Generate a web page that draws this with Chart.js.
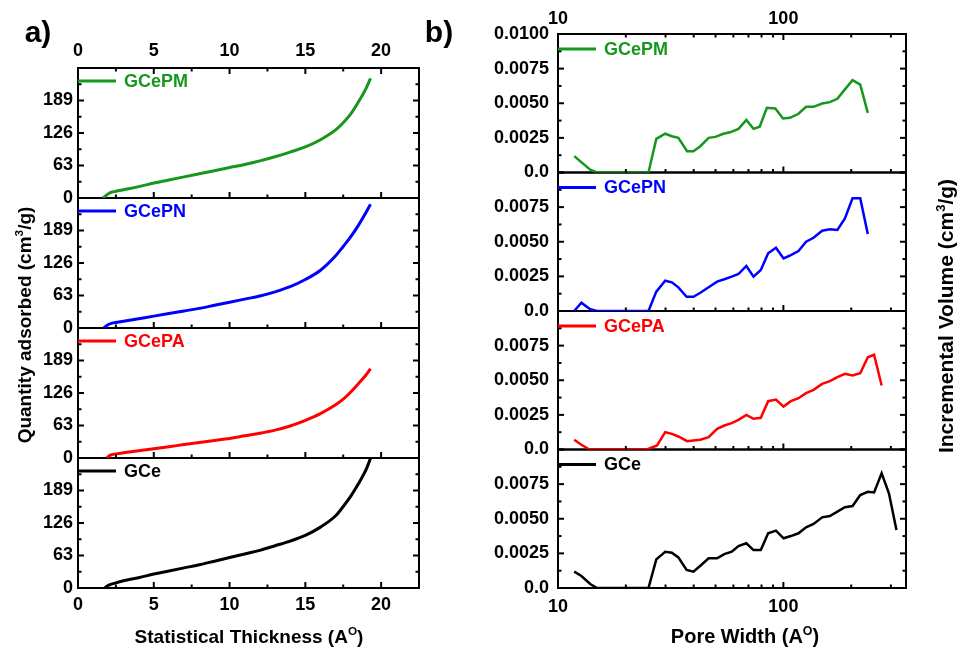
<!DOCTYPE html>
<html>
<head>
<meta charset="utf-8">
<script src="https://cdn.jsdelivr.net/npm/chart.js@4.4.1/dist/chart.umd.min.js"></script>
<style>
  html, body { margin: 0; padding: 0; background: #fff; }
  #wrap { position: relative; width: 966px; height: 655px; }
  canvas { position: absolute; left: 0; top: 0; }
</style>
</head>
<body>
<div id="wrap">
  <canvas id="chartA" width="966" height="655"></canvas>
  <canvas id="chartB" width="966" height="655"></canvas>
</div>
<script>
const FONT = '"Liberation Sans", Arial, sans-serif';
Chart.defaults.font.family = FONT;
Chart.defaults.font.size = 18;
Chart.defaults.font.weight = 'bold';
Chart.defaults.color = '#000';

// ---- a) statistical thickness vs quantity adsorbed
const thickPM = [1.65, 1.85, 2.1, 2.5, 3, 4, 5, 6, 7, 8, 9, 10, 11, 12, 13, 14, 15, 16, 17, 17.5, 18, 18.5, 19, 19.3];
const qtyPM   = [0, 5, 10, 13, 16, 22, 29, 35, 41, 47, 53, 59, 65, 72, 80, 89, 99, 113, 132, 146, 163, 186, 212, 232];
const thickPN = [1.7, 1.9, 2.2, 2.6, 3, 4, 5, 6, 7, 8, 9, 10, 11, 12, 13, 14, 15, 16, 17, 17.5, 18, 18.5, 19, 19.3];
const qtyPN   = [0, 5, 9, 11, 13, 18, 23, 28, 33, 38, 44, 50, 56, 62, 70, 80, 94, 112, 140, 158, 177, 199, 224, 240];
const thickPA = [1.9, 2.1, 2.5, 3, 4, 5, 6, 7, 8, 9, 10, 11, 12, 13, 14, 15, 16, 17, 17.5, 18, 18.5, 19, 19.3];
const qtyPA   = [0, 5, 8, 10, 14, 18, 22, 26, 30, 34, 38, 43, 48, 54, 62, 73, 86, 103, 114, 128, 144, 161, 173];
const thickCe = [1.75, 2, 2.5, 3, 4, 5, 6, 7, 8, 9, 10, 11, 12, 13, 14, 15, 16, 17, 17.5, 18, 18.5, 19, 19.3];
const qtyCe   = [0, 5, 10, 14, 20, 27, 33, 39, 45, 52, 59, 66, 73, 82, 91, 102, 118, 140, 158, 178, 202, 229, 251];

// ---- b) pore width vs incremental volume
const widthPM = [11.8, 13.9, 14.9, 25.2, 27.3, 29.9, 32.0, 34.2, 37.4, 39.9, 42.8, 46.6, 49.9, 54.2, 58.0, 63.2, 68.5, 73.7, 78.5, 84.5, 92.1, 99.6, 107, 116.7, 126.1, 136.1, 148.6, 160.8, 173.6, 187.5, 202.7, 219.3, 236.9];
const volPM   = [0.00118, 0.0002, 0, 0, 0.00243, 0.0028, 0.00262, 0.0025, 0.00154, 0.00154, 0.0019, 0.0025, 0.00257, 0.0028, 0.0029, 0.00315, 0.0038, 0.00315, 0.0033, 0.00467, 0.00462, 0.0039, 0.00395, 0.00424, 0.00474, 0.00474, 0.00498, 0.00508, 0.00532, 0.006, 0.00667, 0.00635, 0.00431];
const widthPN = [11.8, 12.7, 13.9, 14.9, 25.2, 27.3, 29.9, 32.0, 34.2, 37.2, 39.9, 42.8, 46.6, 50.8, 54.7, 59.0, 63.2, 68.5, 73.7, 79.4, 85.6, 92.7, 100.2, 107.9, 116.7, 126.1, 136.1, 148.6, 160.8, 173.6, 187.5, 202.7, 219.3, 236.9];
const volPN   = [0, 0.0006, 0.00012, 0, 0, 0.0014, 0.00219, 0.00207, 0.00171, 0.00103, 0.00103, 0.00132, 0.00171, 0.00212, 0.00229, 0.00248, 0.00267, 0.00325, 0.00248, 0.00296, 0.00417, 0.00457, 0.0038, 0.00404, 0.00433, 0.005, 0.00529, 0.0058, 0.0059, 0.00585, 0.00669, 0.00814, 0.00814, 0.00556];
const widthPA = [11.8, 12.7, 13.8, 24.8, 27.5, 29.9, 32.0, 34.2, 37.4, 39.9, 42.8, 46.6, 50.8, 54.7, 59.0, 63.2, 68.5, 73.7, 79.4, 85.6, 92.7, 100.2, 107.9, 116.7, 126.1, 136.1, 148.6, 160.8, 173.6, 187.5, 202.7, 219.3, 236.9, 252.6, 272.9];
const volPA   = [0.0007, 0.00034, 0, 0, 0.00029, 0.00125, 0.00113, 0.00094, 0.0006, 0.00065, 0.0007, 0.00089, 0.00149, 0.00173, 0.0019, 0.00214, 0.0025, 0.00222, 0.00229, 0.00349, 0.00361, 0.0031, 0.00349, 0.0037, 0.00407, 0.00431, 0.00474, 0.00493, 0.00522, 0.00547, 0.00534, 0.00551, 0.00666, 0.00684, 0.00462];
const widthCe = [11.8, 12.7, 13.9, 14.9, 25.2, 27.3, 29.9, 32.0, 34.2, 37.2, 39.9, 43.2, 46.6, 50.8, 54.7, 59.0, 63.2, 68.5, 73.7, 79.4, 85.6, 92.7, 100.2, 107.9, 116.7, 126.1, 136.1, 148.6, 160.8, 173.6, 187.5, 202.7, 219.3, 236.9, 252.6, 272.9, 294.0, 317.5];
const volCe   = [0.00118, 0.00087, 0.00029, 0, 0, 0.00207, 0.00262, 0.00255, 0.00221, 0.0013, 0.00118, 0.00166, 0.00214, 0.00214, 0.00245, 0.00262, 0.00303, 0.00323, 0.00274, 0.00274, 0.00395, 0.00414, 0.00359, 0.00375, 0.00395, 0.00438, 0.00462, 0.0051, 0.0052, 0.00551, 0.00583, 0.00592, 0.00671, 0.00695, 0.0069, 0.00828, 0.00684, 0.00419];

const sampleNames = ['GCePM', 'GCePN', 'GCePA', 'GCe'];
const sampleColors = ['#16961b', '#0000ff', '#ff0000', '#000000'];
const yIds = ['y1', 'y2', 'y3', 'y4'];

const pts = (xs, ys) => xs.map((x, i) => ({x: x, y: ys[i]}));

function line(ctx, x1, y1, x2, y2) {
  ctx.beginPath(); ctx.moveTo(x1, y1); ctx.lineTo(x2, y2); ctx.stroke();
}

// major + minor tick positions, in data values
function marks(scale, minorStep) {
  const out = [];
  if (scale.type === 'logarithmic') {
    scale.ticks.forEach(t => {
      const v = t.value;
      if (v <= scale.min || v >= scale.max) return;
      const e = Math.pow(10, Math.floor(Math.log10(v) + 1e-9));
      const m = v / e;
      if (Math.abs(m - Math.round(m)) > 1e-6) return;
      out.push({v: v, major: Math.round(m) === 1});
    });
  } else {
    scale.ticks.forEach(t => out.push({v: t.value, major: true}));
    for (let v = minorStep; v < scale.max - 1e-9; v += 2 * minorStep) out.push({v: v, major: false});
  }
  return out;
}

function richText(ctx, parts, x, y, size, rot) {
  const fnt = sup => 'bold ' + (sup ? size * 0.62 : size) + 'px ' + FONT;
  ctx.save();
  ctx.translate(x, y);
  ctx.rotate(rot || 0);
  ctx.fillStyle = '#000';
  ctx.textBaseline = 'alphabetic';
  ctx.textAlign = 'left';
  const widths = parts.map(p => { ctx.font = fnt(p.sup); return ctx.measureText(p.t).width; });
  let cx = -widths.reduce((a, b) => a + b, 0) / 2;
  parts.forEach((p, i) => {
    ctx.font = fnt(p.sup);
    ctx.fillText(p.t, cx, size * 0.35 - (p.sup ? size * 0.42 : 0));
    cx += widths[i];
  });
  ctx.restore();
}

function makeFrames(xMinor, yMinor, legendDy) {
  return {
    id: 'frames',
    beforeDatasetsDraw(chart) {
      const {ctx, chartArea: a} = chart;
      ctx.save();
      ctx.lineWidth = 2;
      ctx.strokeStyle = '#000';
      yIds.forEach(id => {
        const s = chart.scales[id];
        ctx.strokeRect(a.left, s.top, a.right - a.left, s.bottom - s.top);
      });
      ctx.restore();
    },
    afterDatasetsDraw(chart) {
      const {ctx, chartArea: a} = chart;
      const xs = chart.scales.x;
      const xm = marks(xs, xMinor);
      ctx.save();
      yIds.forEach((id, k) => {
        const s = chart.scales[id];
        ctx.strokeStyle = '#000';
        ctx.lineWidth = 2;
        marks(s, yMinor).forEach(m => {
          const y = s.getPixelForValue(m.v), len = m.major ? 6 : 3.5;
          line(ctx, a.left, y, a.left + len, y);
          line(ctx, a.right, y, a.right - len, y);
        });
        xm.forEach(m => {
          const x = xs.getPixelForValue(m.v), len = m.major ? 6 : 3.5;
          line(ctx, x, s.bottom, x, s.bottom - len);
          if (k === 0) line(ctx, x, s.top, x, s.top + len);
        });
        const ds = chart.data.datasets[k];
        const ly = s.top + legendDy;
        ctx.strokeStyle = ds.borderColor;
        ctx.lineWidth = 3;
        line(ctx, a.left, ly, a.left + 38, ly);
        ctx.fillStyle = ds.borderColor;
        ctx.font = 'bold 18px ' + FONT;
        ctx.textBaseline = 'middle';
        ctx.textAlign = 'left';
        ctx.fillText(ds.label, a.left + 46, ly + 1);
      });
      ctx.restore();
    }
  };
}

function makeTexts(items) {
  return {
    id: 'texts',
    afterDraw(chart) {
      items.forEach(it => richText(chart.ctx, it.parts, it.x, it.y, it.size, it.rot));
    }
  };
}

function yAxis(weight, max, step, width, pad, cb) {
  return {
    type: 'linear', position: 'left', stack: 'sub', stackWeight: 1, weight: weight,
    min: 0, max: max,
    grid: {display: false, drawTicks: false}, border: {display: false},
    ticks: {stepSize: step, includeBounds: false, autoSkip: false, padding: pad, callback: cb},
    afterFit(s) { s.width = width; }
  };
}

function xAxis(type, pos, min, max, height, pad, extraTicks) {
  return {
    type: type, position: pos, min: min, max: max,
    grid: {display: false, drawTicks: false}, border: {display: false},
    ticks: Object.assign({autoSkip: false, padding: pad, maxRotation: 0}, extraTicks),
    afterFit(s) { s.height = height; }
  };
}

// ---------------- panel a
const dataA = [pts(thickPM, qtyPM), pts(thickPN, qtyPN), pts(thickPA, qtyPA), pts(thickCe, qtyCe)];
const cbA = v => (v > 250 ? '' : String(v));
new Chart(document.getElementById('chartA'), {
  type: 'line',
  data: {
    datasets: dataA.map((d, i) => ({
      label: sampleNames[i], data: d, xAxisID: 'x', yAxisID: yIds[i],
      borderColor: sampleColors[i], borderWidth: 3, pointRadius: 0,
      cubicInterpolationMode: 'monotone', fill: false
    }))
  },
  options: {
    responsive: false, animation: false, devicePixelRatio: 1,
    layout: {padding: {left: 0, top: 0, right: 547, bottom: 0}},
    plugins: {legend: {display: false}, tooltip: {enabled: false}},
    scales: {
      x: xAxis('linear', 'bottom', 0, 22.5, 67, 6, {stepSize: 5, includeBounds: false}),
      xTop: xAxis('linear', 'top', 0, 22.5, 68, 6, {stepSize: 5, includeBounds: false}),
      y1: yAxis(4, 252, 63, 78, 5, cbA),
      y2: yAxis(3, 252, 63, 78, 5, cbA),
      y3: yAxis(2, 252, 63, 78, 5, cbA),
      y4: yAxis(1, 252, 63, 78, 5, cbA)
    }
  },
  plugins: [
    makeFrames(2.5, 31.5, 13),
    makeTexts([
      {parts: [{t: 'a)'}], x: 38, y: 31, size: 30},
      {parts: [{t: 'Quantity adsorbed (cm'}, {t: '3', sup: true}, {t: '/g)'}], x: 24, y: 325, size: 19, rot: -Math.PI / 2},
      {parts: [{t: 'Statistical Thickness (A'}, {t: 'O', sup: true}, {t: ')'}], x: 249, y: 636, size: 19}
    ])
  ]
});

// ---------------- panel b
const dataB = [pts(widthPM, volPM), pts(widthPN, volPN), pts(widthPA, volPA), pts(widthCe, volCe)];
const cbB = function (v) {
  if (Math.abs(v) < 1e-9) return '0.0';
  if (v > 0.0099 && this.id !== 'y1') return '';
  return v.toFixed(4);
};
const cbLog = v => (v === 10 || v === 100) ? String(v) : '';
new Chart(document.getElementById('chartB'), {
  type: 'line',
  data: {
    datasets: dataB.map((d, i) => ({
      label: sampleNames[i], data: d, xAxisID: 'x', yAxisID: yIds[i],
      borderColor: sampleColors[i], borderWidth: 2.5, pointRadius: 0,
      tension: 0, fill: false
    }))
  },
  options: {
    responsive: false, animation: false, devicePixelRatio: 1,
    layout: {padding: {left: 0, top: 0, right: 60, bottom: 0}},
    plugins: {legend: {display: false}, tooltip: {enabled: false}},
    scales: {
      x: xAxis('logarithmic', 'bottom', 10, 350, 67, 8, {callback: cbLog}),
      xTop: xAxis('logarithmic', 'top', 10, 350, 34, 4, {callback: cbLog}),
      y1: yAxis(4, 0.01, 0.0025, 558, 9, cbB),
      y2: yAxis(3, 0.01, 0.0025, 558, 9, cbB),
      y3: yAxis(2, 0.01, 0.0025, 558, 9, cbB),
      y4: yAxis(1, 0.01, 0.0025, 558, 9, cbB)
    }
  },
  plugins: [
    makeFrames(null, 0.00125, 15),
    makeTexts([
      {parts: [{t: 'b)'}], x: 439, y: 31, size: 30},
      {parts: [{t: 'Incremental Volume (cm'}, {t: '3', sup: true}, {t: '/g)'}], x: 946, y: 316, size: 21, rot: -Math.PI / 2},
      {parts: [{t: 'Pore Width (A'}, {t: 'O', sup: true}, {t: ')'}], x: 745, y: 636, size: 20}
    ])
  ]
});
</script>
</body>
</html>
